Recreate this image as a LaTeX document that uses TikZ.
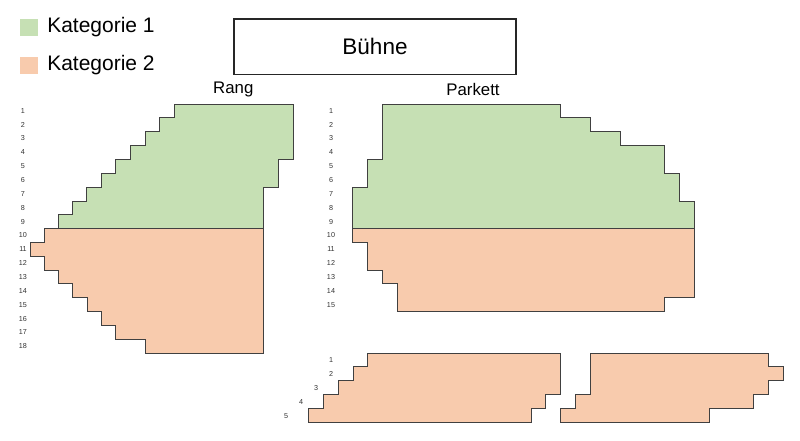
\documentclass[tikz,border=0pt]{standalone}
\usepackage{fontspec}
\setmainfont{Liberation Sans}
\definecolor{kategoriegreen}{HTML}{C6E0B4}
\definecolor{kategorieorange}{HTML}{F8CBAD}
\definecolor{blockline}{HTML}{404040}
\tikzset{
    blockgreen/.style={draw=blockline, fill=kategoriegreen, line width=0.75pt},
    blockorange/.style={draw=blockline, fill=kategorieorange, line width=0.75pt},
    rownumber/.style={inner sep=0pt, font=\fontsize{5.4}{6}\selectfont, text=black!80},
    legendtext/.style={anchor=west, inner sep=0pt, font=\fontsize{15.75}{18}\selectfont},
    blocktitle/.style={inner sep=0pt, font=\fontsize{12.6}{15}\selectfont}
}

\begin{document}
\begin{tikzpicture}[x=0.75pt, y=-0.75pt]
        \useasboundingbox (0,0) rectangle (800,440);

        % legend
        \fill[kategoriegreen] (20.3,18.6) rectangle (37.5,36.2);
        \fill[kategorieorange] (20.3,56.8) rectangle (37.5,74.4);
        \node[legendtext] (kat1) at (47,27.5) {Kategorie 1};
        \node[legendtext] (kat2) at (47,65.5) {Kategorie 2};

        % stage
        \node[draw=black!85, line width=1pt, minimum width=211.5pt, minimum height=41.5pt,
            font=\fontsize{16.9}{20}\selectfont] (buehne) at (375,46.5) {Bühne};

        \node[blocktitle] (rang) at (233.3,89.5) {Rang};
        \node[blocktitle] (parkett) at (473,89.5) {Parkett};

        % Rang
        \draw[blockorange] (44,228.3) -- (263.7,228.3) -- (263.7,353.3) -- (145,353.3)
            -- (145,339.3) -- (115.5,339.3) -- (115.5,325.3) -- (101,325.3)
            -- (101,311.7) -- (87,311.7) -- (87,297.7) -- (72.7,297.7)
            -- (72.7,283.7) -- (58.5,283.7) -- (58.5,270) -- (44,270)
            -- (44,256) -- (30,256) -- (30,242.3) -- (44,242.3) -- cycle;
        \draw[blockgreen] (174.7,104) -- (293.7,104) -- (293.7,159.2) -- (278.7,159.2)
            -- (278.7,187) -- (263.7,187) -- (263.7,228.3) -- (58.3,228.3)
            -- (58.3,214.8) -- (72.7,214.8) -- (72.7,201) -- (86.7,201)
            -- (86.7,187) -- (101,187) -- (101,173) -- (115.3,173)
            -- (115.3,159.2) -- (130.3,159.2) -- (130.3,145.3) -- (145,145.3)
            -- (145,131.5) -- (159.7,131.5) -- (159.7,117.7) -- (174.7,117.7) -- cycle;

        % Parkett
        \draw[blockorange] (352.7,228.3) -- (694.3,228.3) -- (694.3,297.7) -- (664.7,297.7)
            -- (664.7,311.7) -- (397.7,311.7) -- (397.7,283.7) -- (382.7,283.7)
            -- (382.7,270) -- (367.7,270) -- (367.7,242.3) -- (352.7,242.3) -- cycle;
        \draw[blockgreen] (382.7,104) -- (560.7,104) -- (560.7,117.7) -- (590.7,117.7)
            -- (590.7,131.5) -- (620,131.5) -- (620,145.3) -- (664.7,145.3)
            -- (664.7,173) -- (679.7,173) -- (679.7,201) -- (694.3,201)
            -- (694.3,228.3) -- (352.7,228.3) -- (352.7,187) -- (367.7,187)
            -- (367.7,159.2) -- (382.7,159.2) -- cycle;

        % lower blocks
        \draw[blockorange] (367.7,353.3) -- (560.7,353.3) -- (560.7,394.7) -- (545.7,394.7)
            -- (545.7,408.7) -- (531,408.7) -- (531,422.7) -- (308.3,422.7)
            -- (308.3,408.7) -- (323.3,408.7) -- (323.3,394.7) -- (338,394.7)
            -- (338,380.7) -- (353,380.7) -- (353,366.7) -- (367.7,366.7) -- cycle;
        \draw[blockorange] (590.5,353.3) -- (768.7,353.3) -- (768.7,366.7) -- (783.7,366.7)
            -- (783.7,380.7) -- (768.7,380.7) -- (768.7,394.7) -- (753.7,394.7)
            -- (753.7,408.7) -- (709,408.7) -- (709,422.7) -- (560.7,422.7)
            -- (560.7,408.7) -- (575.7,408.7) -- (575.7,394.7) -- (590.5,394.7) -- cycle;

        % row numbers
        \foreach \x in {1,...,18}
        \node[rownumber] (rangrow\x) at (23,{110.7+13.86*(\x-1)}) {\x};
        \foreach \x in {1,...,15}
        \node[rownumber] (parkettrow\x) at (331,{110.7+13.86*(\x-1)}) {\x};

        \foreach \x/\px in {1/331, 2/331, 3/316, 4/301, 5/286}
        \node[rownumber] (lowerrow\x) at (\px,{360+13.9*(\x-1)}) {\x};

    \end{tikzpicture}
\end{document}
